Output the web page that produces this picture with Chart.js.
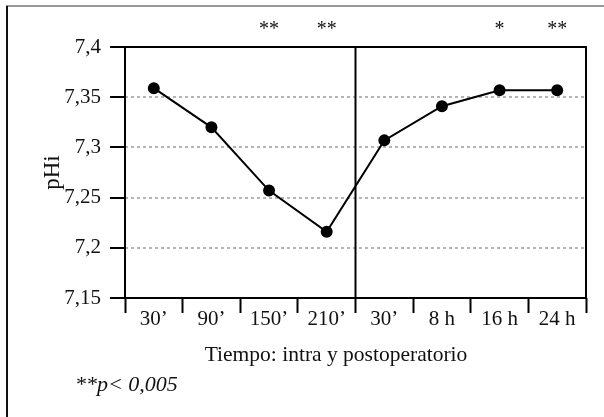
<!DOCTYPE html>
<html>
<head>
<meta charset="utf-8">
<script src="https://cdn.jsdelivr.net/npm/chart.js@4"></script>
<style>
body{margin:0;background:#fff;}
canvas{display:block;}
</style>
</head>
<body>
<canvas id="grafico" width="604" height="417"></canvas>
<script>

const tiempos = ['30’','90’','150’','210’','30’','8 h','16 h','24 h'];

const valores = [7.359, 7.320, 7.257, 7.216, 7.307, 7.341, 7.357, 7.357];

const significancia = ['', '', '**', '**', '', '', '*', '**'];

const ticksY = [7.15, 7.2, 7.25, 7.3, 7.35, 7.4];

const tituloX = 'Tiempo: intra y postoperatorio';
const tituloY = 'pHi';
const nota = '**p< 0,005';

const fuente = "'Liberation Serif', 'Times New Roman', serif";

Chart.defaults.font.family = fuente;
Chart.defaults.color = '#111';

function formatar(v){
return v.toString().replace('.', ',');
}

// marco, separador intra/post, asteriscos y textos
const extras = {

id:'extras',

beforeDraw(chart){
const c = chart.ctx;
c.save();
c.fillStyle = '#fff';
c.fillRect(0, 0, chart.width, chart.height);
c.restore();
},

afterDraw(chart){

const c = chart.ctx;
const a = chart.chartArea;
const x = chart.scales.x;

c.save();

// borde exterior
c.strokeStyle = '#777';
c.lineWidth = 1.5;
c.beginPath();
c.moveTo(6, 6);
c.lineTo(chart.width, 6);
c.stroke();

c.strokeStyle = '#111';
c.lineWidth = 2;
c.beginPath();
c.moveTo(7, 6);
c.lineTo(7, chart.height);
c.stroke();

// caja del grafico
c.strokeStyle = '#000';
c.lineWidth = 2;
c.strokeRect(a.left, a.top, a.right - a.left, a.bottom - a.top);

// separador entre 210' y 30'
const sep = (x.getPixelForValue(3) + x.getPixelForValue(4)) / 2;
c.beginPath();
c.moveTo(sep, a.top);
c.lineTo(sep, a.bottom);
c.stroke();

// asteriscos
c.fillStyle = '#111';
c.font = '20px ' + fuente;
c.textAlign = 'center';
c.textBaseline = 'middle';
significancia.forEach((s, i) => {
if(s){
c.fillText(s, x.getPixelForValue(i), 30);
}
});

// titulo eje x
c.font = '21.5px ' + fuente;
c.fillText(tituloX, 336, 355);

// nota
c.font = 'italic 22px ' + fuente;
c.textAlign = 'left';
c.fillText(nota, 75, 385);

c.restore();

}

};

const ctx = document.getElementById('grafico');

const chart = new Chart(ctx, {

type:'line',

data:{
labels:tiempos,
datasets:[{
label:tituloY,
data:valores,
borderColor:'#000',
backgroundColor:'#000',
borderWidth:2,
pointRadius:5,
pointHoverRadius:5,
tension:0,
fill:false
}]
},

options:{

responsive:false,
animation:false,
devicePixelRatio:1,

layout:{
padding:{left:0, top:47, right:18, bottom:0}
},

plugins:{
legend:{display:false},
tooltip:{enabled:false}
},

scales:{

x:{
offset:true,
afterFit(s){ s.height = 119; },
grid:{
offset:true,
drawOnChartArea:false,
drawTicks:true,
tickLength:15,
tickColor:'#000',
tickWidth:2
},
border:{display:false},
ticks:{
padding:-6,
maxRotation:0,
autoSkip:false,
color:'#111',
font:{size:21}
}
},

y:{
min:7.15,
max:7.4,
afterFit(s){ s.width = 125; },
afterBuildTicks(s){
s.ticks = ticksY.map(v => ({value:v}));
},
grid:{
color:(c) => (c.tick && (c.tick.value === 7.15 || c.tick.value === 7.4)) ? 'rgba(0,0,0,0)' : '#b5b5b5',
lineWidth:2,
tickLength:15,
tickColor:'#000',
tickWidth:2,
tickBorderDash:[]
},
border:{display:false, dash:[3,3]},
title:{
display:true,
text:tituloY,
color:'#111',
font:{size:23},
padding:{top:39, bottom:0}
},
ticks:{
padding:9,
color:'#111',
font:{size:21},
callback:(v) => formatar(v)
}
}

}

},

plugins:[extras]

});

</script>
</body>
</html>
